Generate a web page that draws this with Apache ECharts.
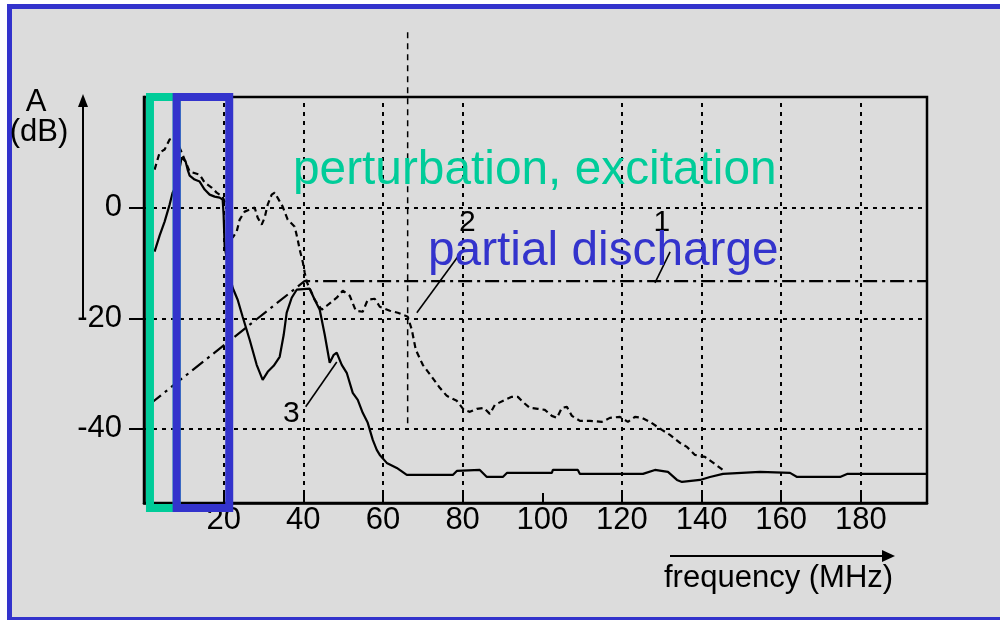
<!DOCTYPE html>
<html>
<head>
<meta charset="utf-8">
<script src="https://cdn.jsdelivr.net/npm/echarts@6/dist/echarts.min.js"></script>
<style>
  html, body { margin: 0; padding: 0; background: #ffffff; }
  #chart { width: 1000px; height: 620px; }
</style>
</head>
<body>
<div id="chart"></div>
<script>
// Spectra: [frequency (MHz), amplitude (dB)]
const curve1 = [[1.5, -35.5], [40.3, -13.3], [196.6, -13.3]];

const curve2 = [
  [2.66, 6.88], [3.92, 9.95], [5.18, 10.50], [6.43, 12.31], [7.44, 12.67], [8.94, 10.86],
  [10.20, 8.69], [11.46, 6.52], [13.97, 5.97], [15.23, 4.52], [16.98, 3.62], [18.24, 2.71],
  [19.75, 1.99], [21.01, -0.36], [22.26, -5.43], [23.27, -4.34], [24.02, -2.17], [25.28, -0.72],
  [27.79, 0.00], [28.54, -1.81], [29.55, -3.08], [30.30, -1.81], [31.06, 0.54], [32.06, 2.35],
  [32.81, 2.71], [33.82, 1.45], [34.82, 0.18], [36.08, -2.17], [37.84, -3.44], [38.59, -5.79],
  [39.10, -7.60], [39.85, -9.77], [40.35, -11.76], [40.85, -13.39], [42.86, -16.65], [44.62, -18.46],
  [45.88, -17.74], [48.39, -16.29], [49.90, -15.02], [51.66, -15.93], [53.17, -18.64], [54.92, -18.82],
  [56.18, -16.65], [57.94, -16.47], [59.20, -17.92], [61.71, -18.64], [63.72, -19.00], [66.23, -19.73],
  [67.24, -22.08], [68.24, -25.70], [70.00, -28.42], [72.26, -30.59], [74.27, -32.58], [76.03, -34.03],
  [78.54, -34.93], [80.30, -36.56], [81.81, -36.92], [83.57, -36.38], [85.33, -36.20], [86.83, -37.29],
  [88.09, -35.66], [90.60, -34.75], [92.36, -34.21], [93.87, -34.21], [95.38, -35.29], [96.88, -36.20],
  [98.89, -36.38], [100.65, -36.56], [102.41, -37.65], [103.67, -38.01], [104.92, -36.20], [106.18, -36.02],
  [107.44, -37.65], [109.45, -38.55], [111.96, -38.55], [114.97, -38.73], [116.98, -38.01], [119.49, -37.83],
  [121.50, -38.73], [123.27, -37.83], [125.03, -38.01], [127.04, -38.73], [130.05, -40.18], [132.06, -41.09],
  [134.57, -42.53], [136.33, -43.26], [138.34, -44.71], [140.85, -45.07], [142.61, -45.97], [145.38, -47.42]
];

const curve3 = [
  [2.66, -7.96], [3.92, -5.07], [5.18, -2.53], [6.43, 0.54], [7.19, 2.71], [8.19, 4.16],
  [9.45, 9.05], [10.45, 8.33], [10.95, 6.88], [11.46, 5.79], [12.71, 5.07], [13.97, 4.71],
  [15.23, 3.26], [16.48, 2.35], [17.74, 1.99], [18.99, 1.81], [19.75, 1.45], [19.99, -1.27],
  [20.25, -7.06], [21.51, -12.13], [22.26, -14.48], [23.52, -16.65], [24.77, -19.73], [26.53, -23.89],
  [28.29, -28.42], [29.80, -31.13], [31.06, -29.68], [32.56, -28.60], [34.07, -26.97], [35.08, -22.99],
  [35.83, -19.00], [37.09, -16.29], [38.34, -14.84], [41.61, -14.66], [42.86, -16.65], [44.12, -18.46],
  [45.38, -22.99], [46.63, -28.05], [47.64, -26.61], [48.39, -26.24], [49.65, -28.42], [50.90, -29.86],
  [52.41, -33.48], [53.67, -34.75], [54.92, -37.10], [56.18, -38.91], [57.44, -41.99], [58.44, -43.80],
  [59.20, -44.71], [60.95, -46.15], [63.47, -47.06], [65.98, -48.33], [77.54, -48.33], [78.54, -47.60],
  [84.32, -47.42], [86.08, -48.69], [90.10, -48.69], [91.11, -47.96], [102.41, -47.96], [102.66, -47.42],
  [108.94, -47.42], [109.45, -48.14], [125.28, -48.14], [128.29, -47.42], [131.56, -47.78], [133.82, -49.23],
  [135.08, -49.59], [139.60, -49.23], [142.11, -48.69], [145.38, -48.14], [154.67, -47.78], [162.21, -47.96],
  [163.97, -48.69], [174.77, -48.69], [176.53, -48.14], [196.6, -48.14]
];

// Axes
const xRange = [0, 196.6];
const yRange = [-53.4, 20];
const xTickValues = [20, 40, 60, 80, 100, 120, 140, 160, 180];
const yTickValues = [0, -20, -40];
const gridFreqs = [20, 40, 60, 80, 120, 140, 160, 180];
const gridLevels = [0, -20, -40];

// Frequency bands [from, to] (MHz)
const perturbationBand = [1.5, 8.2];
const dischargeBand = [8.2, 21.4];
const bandLevels = [20, -54.3];

// Marker at the end of the discharge plateau: [frequency, top level, bottom level]
const markerFreq = [66.2, 31.7, -40];

// Curve numbers: text, label centre, leader start, leader end
const curveTags = [
  { text: '1', at: [130.0, -2.8], from: [132.1, -8.0], to: [128.3, -13.6] },
  { text: '2', at: [81.2, -2.8], from: [80.5, -7.2], to: [68.5, -19.0] },
  { text: '3', at: [37.0, -37.2], from: [40.6, -36.0], to: [48.4, -27.9] }
];

const FONT = '"Liberation Sans", Arial, Helvetica, sans-serif';
const GREEN = '#00CC99';
const BLUE = '#3333CC';

const chart = echarts.init(document.getElementById('chart'), null, { renderer: 'canvas' });

const gridLineStyle = { color: '#000', width: 2, type: [4, 5] };

chart.setOption({
  backgroundColor: '#ffffff',
  animation: false,
  grid: {
    left: 144, right: 73, top: 97, bottom: 117,
    show: true, borderColor: '#000', borderWidth: 2.5, backgroundColor: 'transparent'
  },
  xAxis: {
    type: 'value', min: xRange[0], max: xRange[1],
    axisLine: { show: true, onZero: false, lineStyle: { color: '#000', width: 2.5 } },
    axisTick: { show: true, inside: true, length: 10, customValues: xTickValues, lineStyle: { color: '#000', width: 2 } },
    axisLabel: { customValues: xTickValues, color: '#000', fontSize: 31, fontFamily: FONT, margin: 2 },
    splitLine: { show: false }
  },
  yAxis: {
    type: 'value', min: yRange[0], max: yRange[1],
    axisLine: { show: true, onZero: false, lineStyle: { color: '#000', width: 2.5 } },
    axisTick: { show: true, inside: false, length: 15, customValues: yTickValues, lineStyle: { color: '#000', width: 2 } },
    axisLabel: { customValues: yTickValues, color: '#000', fontSize: 31, fontFamily: FONT, margin: 22 },
    splitLine: { show: false }
  },
  series: [
    {
      name: '1', type: 'line', data: curve1, symbol: 'none', z: 4,
      lineStyle: { color: '#000', width: 2.2, type: [14, 5, 3, 5] },
      markLine: {
        silent: true, symbol: ['none', 'none'], label: { show: false },
        lineStyle: gridLineStyle,
        data: gridFreqs.map(v => ({ xAxis: v, lineStyle: gridLineStyle }))
          .concat(gridLevels.map(v => ({ yAxis: v, lineStyle: gridLineStyle })))
      }
    },
    {
      name: '2', type: 'line', data: curve2, symbol: 'none', z: 5,
      lineStyle: { color: '#000', width: 2.2, type: [6, 4] }
    },
    {
      name: '3', type: 'line', data: curve3, symbol: 'none', z: 6,
      lineStyle: { color: '#000', width: 2.2, type: 'solid' }
    }
  ]
});

const px = p => chart.convertToPixel({ gridIndex: 0 }, p);

function textEl(text, x, y, size, color, align) {
  return {
    type: 'text', x: x, y: y, z: 120,
    style: {
      text: text, fontSize: size, fontFamily: FONT, fill: color,
      align: align, textAlign: align, verticalAlign: 'middle', textVerticalAlign: 'middle'
    }
  };
}

function bandRect(band, color) {
  const a = px([band[0], bandLevels[0]]);
  const b = px([band[1], bandLevels[1]]);
  return {
    type: 'rect', z: 100,
    shape: { x: a[0], y: a[1], width: b[0] - a[0], height: b[1] - a[1] },
    style: { fill: 'none', stroke: color, lineWidth: 8 }
  };
}

const elements = [];

// page panel with its blue frame
elements.push({
  type: 'rect', z: -100, silent: true,
  shape: { x: 9.5, y: 6.5, width: 1000, height: 613 },
  style: { fill: '#DCDCDC', stroke: BLUE, lineWidth: 5 }
});

// dashed marker line
const mTop = px([markerFreq[0], markerFreq[1]]);
const mBot = px([markerFreq[0], markerFreq[2]]);
elements.push({
  type: 'line', z: 3,
  shape: { x1: mTop[0], y1: mTop[1], x2: mBot[0], y2: mBot[1] },
  style: { stroke: '#000', lineWidth: 1.5, lineDash: [6, 5] }
});

// frequency bands
elements.push(bandRect(perturbationBand, GREEN));
elements.push(bandRect(dischargeBand, BLUE));

// curve numbers with leader lines
curveTags.forEach(t => {
  const c = px(t.at), f = px(t.from), e = px(t.to);
  elements.push(textEl(t.text, c[0], c[1], 30, '#000', 'center'));
  elements.push({
    type: 'line', z: 110,
    shape: { x1: f[0], y1: f[1], x2: e[0], y2: e[1] },
    style: { stroke: '#000', lineWidth: 1.6 }
  });
});

// band captions
elements.push(textEl('perturbation, excitation', 293, 171, 47.8, GREEN, 'left'));
elements.push(textEl('partial discharge', 428, 252, 47.8, BLUE, 'left'));

// amplitude axis title and arrow
elements.push(textEl('A', 36, 102, 31, '#000', 'center'));
elements.push(textEl('(dB)', 39, 132, 31, '#000', 'center'));
elements.push({ type: 'line', z: 110, shape: { x1: 83, y1: 320, x2: 83, y2: 104 }, style: { stroke: '#000', lineWidth: 2 } });
elements.push({ type: 'polygon', z: 110, shape: { points: [[83, 94], [78, 107], [88, 107]] }, style: { fill: '#000' } });

// frequency axis title and arrow
elements.push(textEl('frequency (MHz)', 664, 578, 31, '#000', 'left'));
elements.push({ type: 'line', z: 110, shape: { x1: 670, y1: 556, x2: 884, y2: 556 }, style: { stroke: '#000', lineWidth: 2 } });
elements.push({ type: 'polygon', z: 110, shape: { points: [[895, 556], [882, 550], [882, 562]] }, style: { fill: '#000' } });

chart.setOption({ graphic: { elements: elements } });
</script>
</body>
</html>
